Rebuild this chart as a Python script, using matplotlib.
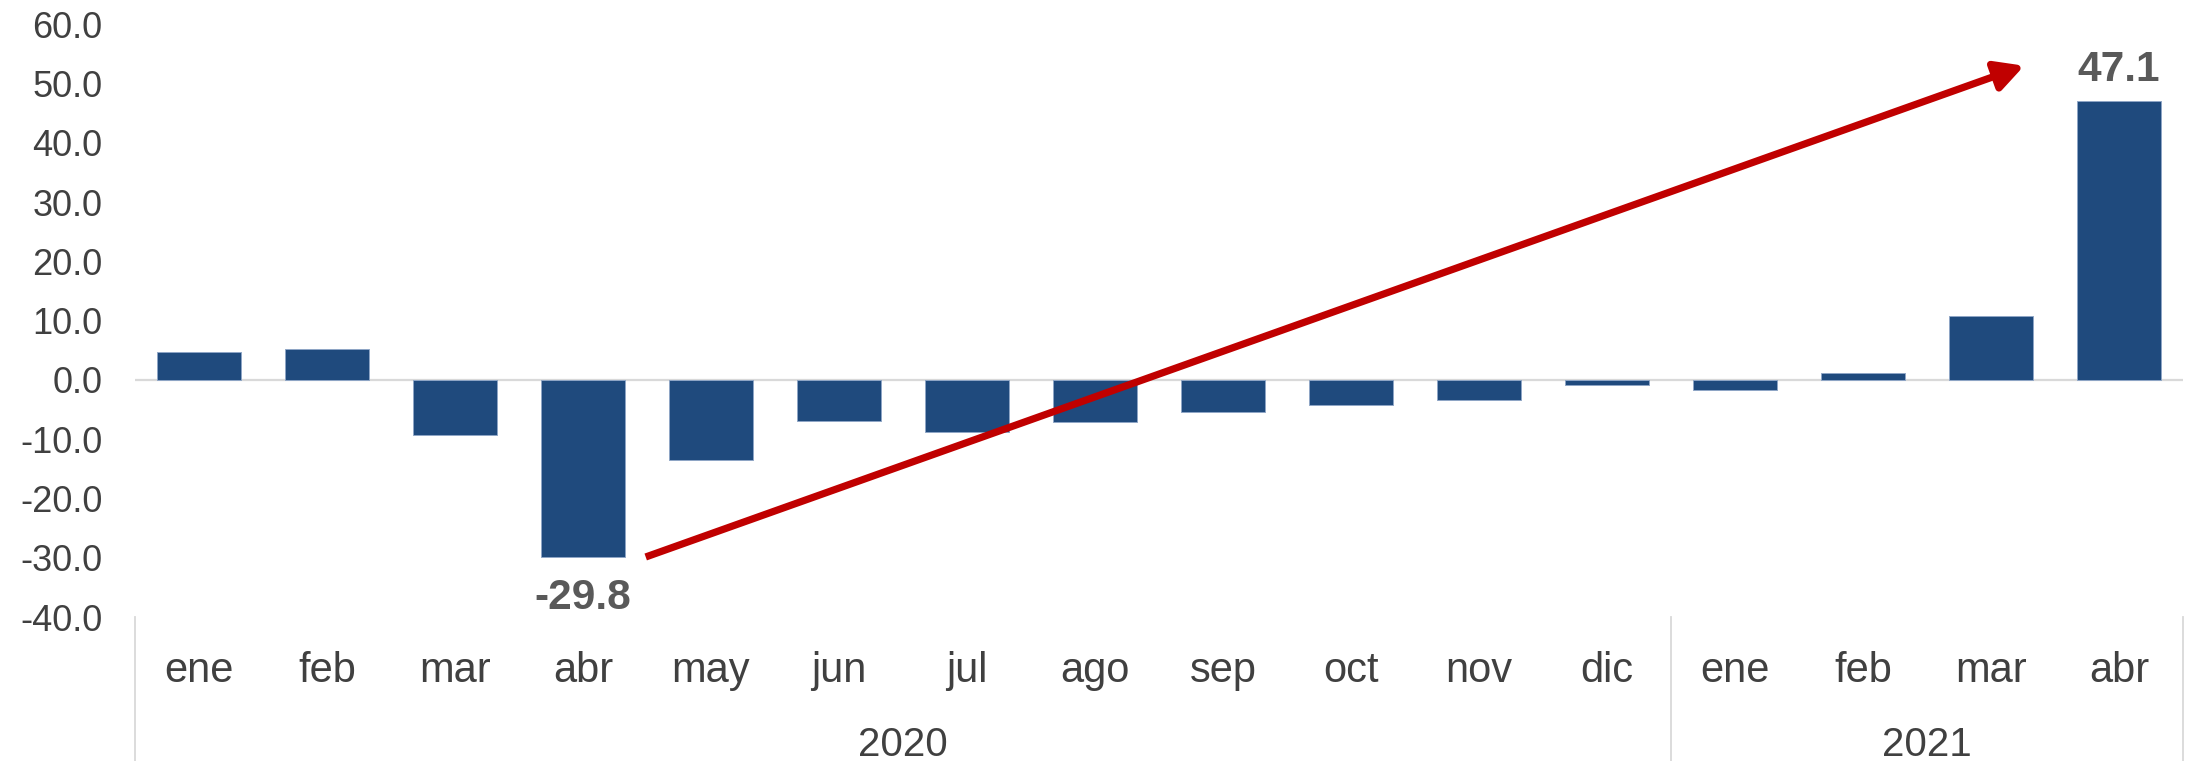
import matplotlib
matplotlib.use('Agg')
import matplotlib.pyplot as plt
import numpy as np

months = ['ene', 'feb', 'mar', 'abr', 'may', 'jun', 'jul', 'ago',
          'sep', 'oct', 'nov', 'dic', 'ene', 'feb', 'mar', 'abr']
values = [4.7, 5.3, -9.3, -29.8, -13.5, -7.0, -8.7, -7.1,
          -5.4, -4.3, -3.4, -0.9, -1.7, 1.1, 10.8, 47.1]
years = ['2020', '2021']
year_counts = [12, 4]
labelled = [3, 15]          # bars that carry a value label
arrow_start = (3.49, -29.85)  # red trend arrow, data coords
arrow_end = (14.26, 53.0)
y_ticks = list(range(-40, 70, 10))


def plot():
    plt.rcParams['font.family'] = ['Liberation Sans', 'DejaVu Sans']
    fig = plt.figure(figsize=(21.88, 7.61), dpi=100)
    ax = fig.add_axes([0.0617, 0.1890, 0.9360, 0.7792])

    x = np.arange(len(values))
    ax.bar(x, values, width=0.66, color='#1F4A7D', edgecolor='#8FA6C6',
           linewidth=0.7, zorder=2)
    ax.axhline(0, color='#D9D9D9', linewidth=1.6, zorder=1)

    ax.set_xlim(-0.5, len(values) - 0.5)
    ax.set_ylim(-40, 60)
    ax.set_yticks(y_ticks)
    ax.set_yticklabels([f'{v:.1f}' for v in y_ticks], fontsize=26, color='#404040')
    ax.tick_params(axis='y', length=0, pad=23.5)
    ax.set_xticks([])
    for s in ax.spines.values():
        s.set_visible(False)

    # value labels
    for i in labelled:
        v = values[i]
        off = 14 if v > 0 else -38
        ax.annotate(f'{v:.1f}', (i, v), xytext=(0, off), textcoords='offset points',
                    ha='center', va='baseline', fontsize=30.5, fontweight='bold',
                    color='#595959')

    # category axis: months + years with separators
    tr = ax.get_xaxis_transform()
    for i, m in enumerate(months):
        ax.text(i, -0.1093, m, transform=tr, ha='center', va='baseline',
                fontsize=30, color='#404040')
    start = -0.5
    ax.plot([start, start], [0, -0.243], transform=tr, color='#D9D9D9',
            linewidth=1.3, clip_on=False)
    for yr, n in zip(years, year_counts):
        end = start + n
        ax.plot([end, end], [0, -0.243], transform=tr, color='#D9D9D9',
                linewidth=1.3, clip_on=False)
        ax.text((start + end) / 2, -0.234, yr, transform=tr, ha='center',
                va='baseline', fontsize=29, color='#404040')
        start = end

    ax.annotate('', xy=arrow_end, xytext=arrow_start,
                arrowprops=dict(arrowstyle='-|>,head_length=1.7,head_width=0.9',
                                color='#C00000', lw=5.2, shrinkA=0, shrinkB=0,
                                capstyle='butt'),
                zorder=3)

    fig.savefig('out.png', dpi=100)


if __name__ == '__main__':
    plot()
